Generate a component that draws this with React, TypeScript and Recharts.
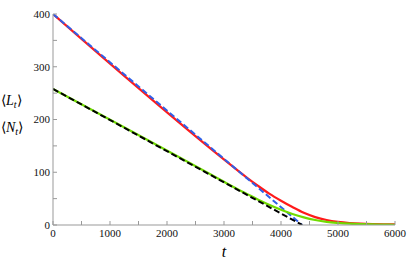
import React from "react";
import { LineChart, Line, XAxis, YAxis } from "recharts";

const xTicks = [0, 500, 1000, 1500, 2000, 2500, 3000, 3500, 4000, 4500, 5000, 5500, 6000];
const yTicks = [0, 50, 100, 150, 200, 250, 300, 350, 400];

const redT = [0, 3200, 3400, 3600, 3800, 4000, 4200, 4400, 4600, 4800, 5000, 5200, 5400, 5600, 5800, 6000];
const redV = [400, 107, 90, 74, 59, 46, 34, 23, 15, 9.5, 6, 3.8, 2.5, 1.7, 1.2, 1];

const blueT = [0, 4370];
const blueV = [400, 0];

const greenT = [0, 3000, 3200, 3400, 3600, 3800, 4000, 4200, 4400, 4600, 4800, 5000, 5200, 5400, 5600, 5800, 6000];
const greenV = [258, 82, 70, 59, 48, 38, 29, 21, 14.5, 9.5, 6, 4, 2.6, 1.7, 1.1, 0.8, 0.5];

const blackT = [0, 4370];
const blackV = [258, 0];

const toData = (ts: number[], vs: number[]) => ts.map((t, i) => ({ t, v: vs[i] }));

const FRAME = "#999999";
const FONT = '"Liberation Serif"';

const YLabel = () => (
  <g fill="#000">
    <text x={1} y={105} fontSize={14} style={{ fontFamily: FONT }}>
      {"\u27E8"}
      <tspan fontStyle="italic">L</tspan>
      <tspan fontStyle="italic" fontSize={10} dy={3}>t</tspan>
      <tspan dy={-3}>{"\u27E9"}</tspan>
    </text>
    <text x={1} y={132} fontSize={14} style={{ fontFamily: FONT }}>
      {"\u27E8"}
      <tspan fontStyle="italic">N</tspan>
      <tspan fontStyle="italic" fontSize={10} dy={3}>t</tspan>
      <tspan dy={-3}>{"\u27E9"}</tspan>
    </text>
  </g>
);

const XLabel = () => (
  <text x={224} y={257} fontSize={16} fontStyle="italic" textAnchor="middle" fill="#000" style={{ fontFamily: FONT }}>
    t
  </text>
);

const tickStyle = { fill: "#111", fontSize: 11, style: { fontFamily: FONT } };

export default function App() {
  return (
    <div style={{ position: "absolute", left: 0, top: 0, background: "#fff" }}>
      <LineChart width={415} height={261} margin={{ top: 14, right: 20, bottom: 0, left: 0 }}>
        <XAxis
          xAxisId="b"
          dataKey="t"
          type="number"
          domain={[0, 6000]}
          ticks={xTicks}
          allowDataOverflow
          height={36}
          tickSize={-4}
          tickMargin={8}
          stroke={FRAME}
          tick={tickStyle}
          tickFormatter={(v: number) => (v % 1000 === 0 ? String(v) : "")}
          label={<XLabel />}
        />
        <XAxis
          xAxisId="top"
          orientation="top"
          dataKey="t"
          type="number"
          domain={[0, 6000]}
          ticks={xTicks}
          height={0}
          mirror
          tickSize={4}
          stroke={FRAME}
          tickFormatter={() => ""}
        />
        <YAxis
          yAxisId="l"
          type="number"
          domain={[0, 400]}
          ticks={yTicks}
          allowDataOverflow
          width={53}
          tickSize={-4}
          tickMargin={7}
          stroke={FRAME}
          tick={tickStyle}
          tickFormatter={(v: number) => (v % 100 === 0 ? String(v) : "")}
          label={<YLabel />}
        />
        <YAxis
          yAxisId="r"
          orientation="right"
          type="number"
          domain={[0, 400]}
          ticks={yTicks}
          width={0}
          mirror
          tickSize={4}
          stroke={FRAME}
          tickFormatter={() => ""}
        />
        <Line xAxisId="b" yAxisId="l" data={toData(redT, redV)} dataKey="v" type="monotone" stroke="#ff1a1a" strokeWidth={2.2} dot={false} isAnimationActive={false} />
        <Line xAxisId="b" yAxisId="l" data={toData(blueT, blueV)} dataKey="v" type="linear" stroke="#2f5fe8" strokeWidth={2} strokeDasharray="6 3" dot={false} isAnimationActive={false} />
        <Line xAxisId="b" yAxisId="l" data={toData(greenT, greenV)} dataKey="v" type="monotone" stroke="#70dc00" strokeWidth={2.2} dot={false} isAnimationActive={false} />
        <Line xAxisId="b" yAxisId="l" data={toData(blackT, blackV)} dataKey="v" type="linear" stroke="#000" strokeWidth={2} strokeDasharray="6 3" dot={false} isAnimationActive={false} />
      </LineChart>
    </div>
  );
}
